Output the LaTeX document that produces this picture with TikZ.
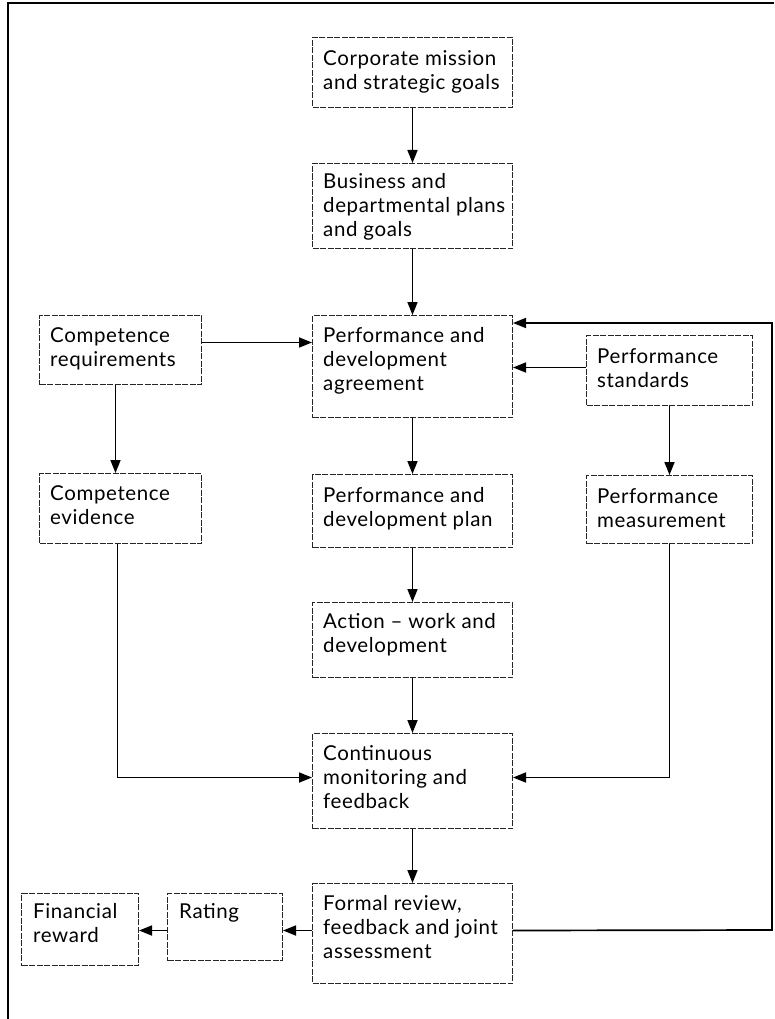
\documentclass[tikz,border=0pt]{standalone}
\usepackage{fontspec}
\setmainfont{Lato}[LetterSpace=3.0]
\usetikzlibrary{arrows.meta}
\newcommand\fl{\rule{0pt}{16pt}}
\begin{document}
\begin{tikzpicture}[x=1pt,y=-1pt,
  box/.style={draw=black!85, line width=1pt, dash pattern=on 6pt off 1.5pt, inner sep=0pt, anchor=north west},
  txt/.style={anchor=north west, inner sep=0pt, align=left, font=\fontsize{20.5}{24}\selectfont},
  arr/.style={-{Triangle[length=13pt,width=10pt]}, line width=1.7pt}]
\useasboundingbox (0,0) rectangle (774,1019);
% outer frame
\draw[line width=2pt] (774,3) -- (8,3) -- (8,1019);
% boxes
\node[box, minimum width=200pt, minimum height=70pt]  (corp)    at (312,37)  {};
\node[box, minimum width=200pt, minimum height=85pt]  (bus)     at (312,163) {};
\node[box, minimum width=200pt, minimum height=102pt] (agree)   at (312,315) {};
\node[box, minimum width=200pt, minimum height=73pt]  (plan)    at (312,474) {};
\node[box, minimum width=200pt, minimum height=75pt]  (action)  at (312,602) {};
\node[box, minimum width=200pt, minimum height=95pt]  (cont)    at (312,733) {};
\node[box, minimum width=200pt, minimum height=100pt] (formal)  at (312,883) {};
\node[box, minimum width=162pt, minimum height=69pt]  (compreq) at (39,315)  {};
\node[box, minimum width=162pt, minimum height=70pt]  (evid)    at (39,473)  {};
\node[box, minimum width=166pt, minimum height=70pt]  (stand)   at (586,335) {};
\node[box, minimum width=166pt, minimum height=68pt]  (meas)    at (586,475) {};
\node[box, minimum width=115pt, minimum height=67pt]  (rating)  at (167,893) {};
\node[box, minimum width=117pt, minimum height=72pt]  (fin)     at (21,893)  {};
% texts
\node[txt] (corpT)    at (323,49)  {\fl Corporate mission\\and strategic goals};
\node[txt] (busT)     at (323,172) {\fl Business and\\departmental plans\\and goals};
\node[txt] (agreeT)   at (323,326) {\fl Performance and\\development\\agreement};
\node[txt] (planT)    at (323,486) {\fl Performance and\\development plan};
\node[txt] (actionT)  at (323,612) {\fl Action -- work and\\development};
\node[txt] (contT)    at (323,744) {\fl Continuous\\monitoring and\\feedback};
\node[txt] (formalT)  at (323,894) {\fl Formal review,\\feedback and joint\\assessment};
\node[txt] (compreqT) at (50,326)  {\fl Competence\\requirements};
\node[txt] (evidT)    at (50,484)  {\fl Competence\\evidence};
\node[txt] (standT)   at (597,347) {\fl Performance\\standards};
\node[txt] (measT)    at (597,487) {\fl Performance\\measurement};
\node[txt] (ratingT)  at (179,902) {\fl Rating};
\node[txt] (finT)     at (33,902)  {\fl Financial\\reward};
% connectors
\draw[arr] (corp) -- (bus);
\draw[arr] (bus) -- (agree);
\draw[arr] (agree) -- (plan);
\draw[arr] (plan) -- (action);
\draw[arr] (action) -- (cont);
\draw[arr] (cont) -- (formal);
\draw[arr] ([yshift=7.5pt]compreq.east) -- ([yshift=7.5pt]compreq.east -| agree.west);
\draw[arr] ([yshift=3pt]stand.west) -- ([yshift=3pt]stand.west -| agree.east);
\coordinate (fbA) at (772,930);
\coordinate (fbB) at (772,323);
\draw[arr] ([yshift=3pt]formal.east) -- (fbA) -- (fbB) -- (fbB -| agree.east);
\draw[arr] ([xshift=-5pt]compreq.south) -- ([xshift=-5pt]evid.north);
\draw[arr] (stand) -- (meas);
\draw[arr] ([xshift=-3pt]evid.south) |- ([yshift=3.5pt]cont.west);
\draw[arr] (meas.south) |- ([yshift=3.5pt]cont.east);
\draw[arr] ([yshift=3pt]formal.west) -- ([yshift=3pt]formal.west -| rating.east);
\draw[arr] ([yshift=-3.5pt]rating.west) -- ([yshift=-3.5pt]rating.west -| fin.east);
\end{tikzpicture}
\end{document}
